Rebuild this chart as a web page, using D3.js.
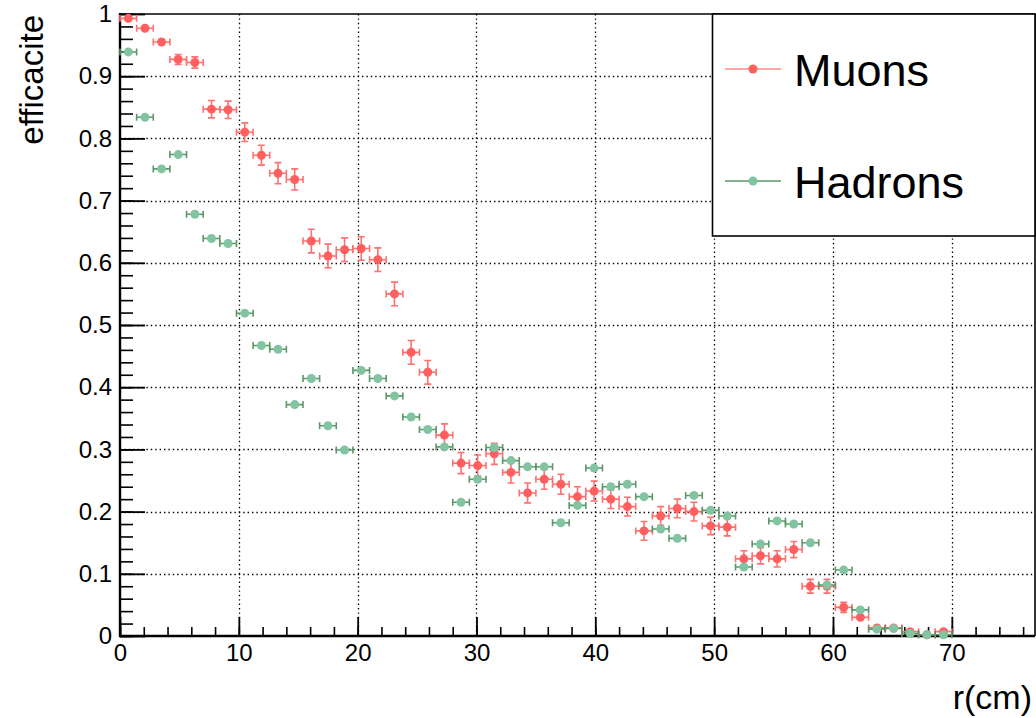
<!DOCTYPE html>
<html>
<head>
<meta charset="utf-8">
<script src="https://cdn.jsdelivr.net/npm/d3@7"></script>
<style>
  body { margin: 0; background: #fff; }
  text { font-family: "Liberation Sans", Arial, Helvetica, sans-serif; fill: #000; }
</style>
</head>
<body>
<svg id="chart" width="1036" height="718"></svg>
<script>
// bin centres r(cm), bins of 1.4 cm
const radius = [0.7, 2.1, 3.5, 4.9, 6.3, 7.7, 9.1, 10.5, 11.9, 13.3,
    14.7, 16.1, 17.5, 18.9, 20.3, 21.7, 23.1, 24.5, 25.9, 27.3,
    28.7, 30.1, 31.5, 32.9, 34.3, 35.7, 37.1, 38.5, 39.9, 41.3,
    42.7, 44.1, 45.5, 46.9, 48.3, 49.7, 51.1, 52.5, 53.9, 55.3,
    56.7, 58.1, 59.5, 60.9, 62.3, 63.7, 65.1, 66.5, 67.9, 69.3];
const binHalf = 0.7;

// efficiency, muons
const muons = [0.993, 0.977, 0.955, 0.927, 0.922, 0.847, 0.846, 0.810, 0.773, 0.744,
    0.734, 0.635, 0.611, 0.621, 0.623, 0.605, 0.550, 0.456, 0.424, 0.323,
    0.278, 0.274, 0.293, 0.263, 0.230, 0.252, 0.244, 0.224, 0.233, 0.220,
    0.208, 0.169, 0.193, 0.205, 0.200, 0.177, 0.175, 0.124, 0.129, 0.124,
    0.139, 0.080, 0.080, 0.046, 0.030, 0.013, 0.013, 0.007, 0.002, 0.007];
const muonsErr = [0.003, 0.005, 0.006, 0.008, 0.009, 0.014, 0.014, 0.015, 0.016, 0.017,
    0.017, 0.019, 0.019, 0.019, 0.019, 0.019, 0.019, 0.019, 0.019, 0.018,
    0.017, 0.017, 0.017, 0.017, 0.016, 0.016, 0.016, 0.016, 0.016, 0.015,
    0.015, 0.015, 0.015, 0.015, 0.015, 0.014, 0.014, 0.013, 0.013, 0.013,
    0.013, 0.011, 0.011, 0.008, 0.007, 0.005, 0.005, 0.004, 0.002, 0.004];

// efficiency, hadrons
const hadrons = [0.939, 0.834, 0.751, 0.774, 0.678, 0.639, 0.631, 0.519, 0.467, 0.461,
    0.372, 0.414, 0.338, 0.299, 0.427, 0.414, 0.386, 0.352, 0.332, 0.304,
    0.215, 0.252, 0.303, 0.282, 0.272, 0.272, 0.182, 0.210, 0.270, 0.240,
    0.244, 0.224, 0.172, 0.157, 0.226, 0.202, 0.193, 0.111, 0.148, 0.185,
    0.180, 0.150, 0.082, 0.106, 0.042, 0.011, 0.012, 0.004, 0.002, 0.002];
const hadronsErr = [0.003, 0.004, 0.004, 0.004, 0.004, 0.004, 0.004, 0.004, 0.004, 0.004,
    0.004, 0.004, 0.004, 0.004, 0.004, 0.004, 0.004, 0.004, 0.004, 0.004,
    0.003, 0.003, 0.003, 0.003, 0.003, 0.003, 0.003, 0.003, 0.003, 0.003,
    0.003, 0.003, 0.003, 0.003, 0.003, 0.003, 0.003, 0.003, 0.003, 0.003,
    0.003, 0.003, 0.002, 0.002, 0.002, 0.001, 0.001, 0.001, 0.001, 0.001];

const yTicks = [0, 0.1, 0.2, 0.3, 0.4, 0.5, 0.6, 0.7, 0.8, 0.9, 1];
const xTicks = [0, 10, 20, 30, 40, 50, 60, 70];

const series = [
    { name: 'Muons', values: muons, errors: muonsErr, marker: '#ff5f5f', bar: '#ff7070', legendLine: '#ff8a8a' },
    { name: 'Hadrons', values: hadrons, errors: hadronsErr, marker: '#82c4a2', bar: '#5a9868', legendLine: '#5a9868' }
];

// frame
const frameLeft = 120, frameRight = 1035, frameTop = 14, frameBottom = 636;

const svg = d3.select('#chart');

const x = d3.scaleLinear().domain([0, 77]).range([frameLeft, frameRight]);
const y = d3.scaleLinear().domain([0, 1]).range([frameBottom, frameTop]);

// grid
let grid = svg.append('g').attr('class', 'grid')
    .attr('stroke', '#000').attr('stroke-width', 1.3).attr('stroke-dasharray', '1.4,3');
grid.selectAll('line.v').data(xTicks.slice(1))
    .enter().append('line').attr('class', 'v')
    .attr('x1', d => Math.round(x(d)) + 0.5).attr('x2', d => Math.round(x(d)) + 0.5)
    .attr('y1', frameTop).attr('y2', frameBottom);
grid.selectAll('line.h').data(yTicks.slice(1, -1))
    .enter().append('line').attr('class', 'h')
    .attr('y1', d => Math.round(y(d)) + 0.5).attr('y2', d => Math.round(y(d)) + 0.5)
    .attr('x1', frameLeft).attr('x2', frameRight);

// axes (ROOT style: ticks pointing inside the frame)
let yMinor = d3.range(0, 1.0001, 0.02);
svg.append('g').attr('transform', `translate(${frameLeft},0)`)
    .call(d3.axisLeft(y).tickValues(yMinor).tickSize(-13).tickFormat(''))
    .call(g => g.select('.domain').remove())
    .selectAll('line').attr('stroke-width', 1.6);

svg.append('g').attr('transform', `translate(${frameLeft},0)`)
    .call(d3.axisLeft(y).tickValues(yTicks).tickSize(-25).tickPadding(8)
        .tickFormat(d => d === 0 ? '0' : d === 1 ? '1' : d.toFixed(1)))
    .call(g => g.select('.domain').remove())
    .call(g => g.selectAll('line').attr('stroke-width', 1.8))
    .call(g => g.selectAll('text').attr('font-size', 24).attr('font-family', '"Liberation Sans", Arial, sans-serif'));

let xMinor = d3.range(0, 77.001, 2);
svg.append('g').attr('transform', `translate(0,${frameBottom})`)
    .call(d3.axisBottom(x).tickValues(xMinor).tickSize(-9).tickFormat(''))
    .call(g => g.select('.domain').remove())
    .selectAll('line').attr('stroke-width', 1.6);

svg.append('g').attr('transform', `translate(0,${frameBottom})`)
    .call(d3.axisBottom(x).tickValues(xTicks).tickSize(-19).tickPadding(8))
    .call(g => g.select('.domain').remove())
    .call(g => g.selectAll('line').attr('stroke-width', 1.8))
    .call(g => g.selectAll('text').attr('font-size', 24).attr('font-family', '"Liberation Sans", Arial, sans-serif'));

// frame lines
svg.append('line').attr('x1', frameLeft).attr('x2', frameRight).attr('y1', frameTop).attr('y2', frameTop)
    .attr('stroke', '#000').attr('stroke-width', 1.6);
svg.append('line').attr('x1', frameRight).attr('x2', frameRight).attr('y1', frameTop).attr('y2', frameBottom)
    .attr('stroke', '#000').attr('stroke-width', 1.6);
svg.append('line').attr('x1', frameLeft).attr('x2', frameLeft).attr('y1', frameTop - 1).attr('y2', frameBottom + 1)
    .attr('stroke', '#000').attr('stroke-width', 2.4);
svg.append('line').attr('x1', frameLeft - 1).attr('x2', frameRight).attr('y1', frameBottom).attr('y2', frameBottom)
    .attr('stroke', '#000').attr('stroke-width', 2.4);

// data points with error bars
const cap = 3.5;
series.forEach(function(s) {
    let pts = radius.map((r, i) => ({ r: r, v: s.values[i], e: s.errors[i] }));
    let g = svg.append('g').attr('class', 'series');
    let bars = g.append('g').attr('stroke', s.bar).attr('stroke-width', 1.6).attr('fill', 'none');
    bars.selectAll('path').data(pts).enter().append('path')
        .attr('d', function(d) {
            let x1 = x(d.r - binHalf), x2 = x(d.r + binHalf), cx = x(d.r);
            let cy = y(d.v), y1 = y(Math.min(1, d.v + d.e)), y2 = y(Math.max(0, d.v - d.e));
            let p = `M${x1},${cy}H${x2}M${x1},${cy - cap}V${cy + cap}M${x2},${cy - cap}V${cy + cap}`;
            if (cy - y1 > 4.5)
                p += `M${cx},${y1}V${y2}M${cx - cap},${y1}H${cx + cap}M${cx - cap},${y2}H${cx + cap}`;
            return p;
        });
    g.selectAll('circle').data(pts).enter().append('circle')
        .attr('cx', d => x(d.r)).attr('cy', d => y(d.v)).attr('r', 4.5)
        .attr('fill', s.marker);
});

// legend
let legend = svg.append('g').attr('class', 'legend');
legend.append('rect').attr('x', 712.5).attr('y', frameTop).attr('width', frameRight - 712.5).attr('height', 222)
    .attr('fill', '#fff').attr('stroke', '#000').attr('stroke-width', 1.6);
let entryY = [69, 181];
series.forEach(function(s, i) {
    let ly = entryY[i];
    legend.append('line').attr('x1', 725).attr('x2', 781).attr('y1', ly).attr('y2', ly)
        .attr('stroke', s.legendLine).attr('stroke-width', 1.6);
    legend.append('circle').attr('cx', 753).attr('cy', ly).attr('r', 4.5).attr('fill', s.marker);
    legend.append('text').attr('x', 794).attr('y', ly + 17).attr('font-size', 45).text(s.name);
});

// axis titles
svg.append('text').attr('transform', 'translate(43,15) rotate(-90)')
    .attr('text-anchor', 'end').attr('font-size', 33).text('efficacite');
svg.append('text').attr('x', 1032).attr('y', 709)
    .attr('text-anchor', 'end').attr('font-size', 34).text('r(cm)');
</script>
</body>
</html>
